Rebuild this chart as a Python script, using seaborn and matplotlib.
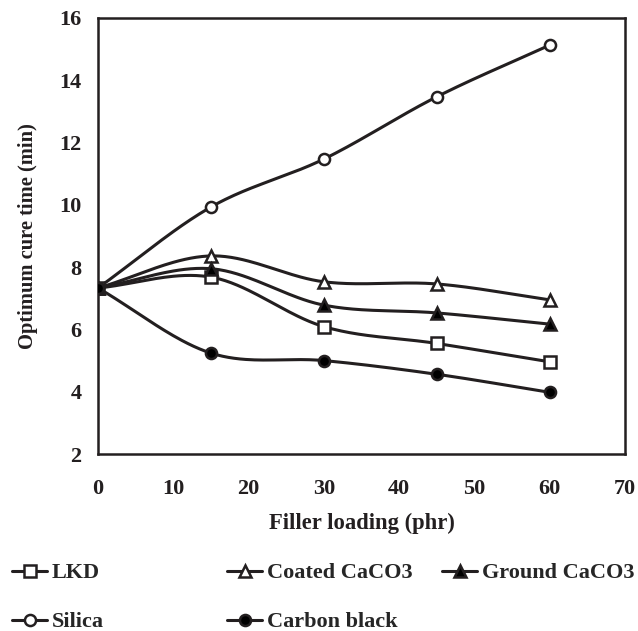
import numpy as np
import pandas as pd
import seaborn as sns
import matplotlib.pyplot as plt
from matplotlib.lines import Line2D

# --- DATA ---
loading = [0, 15, 30, 45, 60]
lkd = [7.33, 7.68, 6.09, 5.55, 4.96]
coated_caco3 = [7.33, 8.36, 7.53, 7.46, 6.95]
ground_caco3 = [7.33, 7.95, 6.78, 6.53, 6.17]
silica = [7.33, 9.93, 11.47, 13.47, 15.13]
carbon_black = [7.33, 5.24, 5.00, 4.56, 3.98]

x_ticks = [0, 10, 20, 30, 40, 50, 60, 70]
y_ticks = [2, 4, 6, 8, 10, 12, 14, 16]


def smooth(x, y, n=40):
    """Spline Catmull-Rom (como o 'smoothed line' do Excel)."""
    x = np.asarray(x, float)
    y = np.asarray(y, float)
    px = np.concatenate([[2 * x[0] - x[1]], x, [2 * x[-1] - x[-2]]])
    py = np.concatenate([[2 * y[0] - y[1]], y, [2 * y[-1] - y[-2]]])
    xs, ys = [], []
    t = np.linspace(0, 1, n)
    for i in range(1, len(px) - 2):
        for p, out in ((px, xs), (py, ys)):
            p0, p1, p2, p3 = p[i - 1], p[i], p[i + 1], p[i + 2]
            out.append(0.5 * ((2 * p1) + (-p0 + p2) * t
                              + (2 * p0 - 5 * p1 + 4 * p2 - p3) * t ** 2
                              + (-p0 + 3 * p1 - 3 * p2 + p3) * t ** 3))
    return np.concatenate(xs), np.concatenate(ys)


series = {
    'LKD': (lkd, 's', 'white'),
    'Coated CaCO3': (coated_caco3, '^', 'white'),
    'Ground CaCO3': (ground_caco3, '^', 'black'),
    'Silica': (silica, 'o', 'white'),
    'Carbon black': (carbon_black, 'o', 'black'),
}

sns.set_style('white')
plt.rcParams['font.family'] = ['Liberation Serif', 'DejaVu Serif']
plt.rcParams['font.weight'] = 'bold'

fig = plt.figure(figsize=(6.38, 6.31), dpi=100)
ax = fig.add_axes([0.1536, 0.2805, 0.826, 0.691])

lc = '#231f20'
handles = {}
for name, (vals, mk, fc) in series.items():
    sx, sy = smooth(loading, vals)
    df = pd.DataFrame({'x': sx, 'y': sy})
    sns.lineplot(data=df, x='x', y='y', ax=ax, color=lc, linewidth=2.2,
                 sort=False, estimator=None)
    ms = 9 if mk == '^' else 8
    ax.plot(loading, vals, linestyle='none', marker=mk, markersize=ms,
            markerfacecolor=fc, markeredgecolor=lc, markeredgewidth=1.8, zorder=3)
    handles[name] = Line2D([], [], color=lc, linewidth=2.2, marker=mk,
                           markersize=ms, markerfacecolor=fc,
                           markeredgecolor=lc, markeredgewidth=1.8, label=name)

ax.set_xlim(0, 70)
ax.set_ylim(2, 16)
ax.set_xticks(x_ticks)
ax.set_yticks(y_ticks)
for s in ax.spines.values():
    s.set_visible(True)
    s.set_color(lc)
    s.set_linewidth(1.8)
ax.tick_params(axis='both', direction='out', length=5, width=1, color='#555555',
               labelsize=16, labelcolor=lc)
ax.tick_params(axis='x', pad=13)
ax.tick_params(axis='y', pad=7)
ax.set_xlabel('Filler loading (phr)', fontsize=16.3, fontweight='bold', color=lc, labelpad=10)
ax.set_ylabel('Optimum cure time (min)', fontsize=14.8, fontweight='bold', color=lc, labelpad=15)

# legenda em três colunas de largura igual (estilo Excel)
columns = [['LKD', 'Silica'], ['Coated CaCO3', 'Carbon black'], ['Ground CaCO3']]
col_x = [0.0045, 0.3415, 0.6785]
for names, x0 in zip(columns, col_x):
    leg = fig.legend(handles=[handles[n] for n in names], loc='upper left',
                     bbox_to_anchor=(x0, 0.122), frameon=False, fontsize=16,
                     handlelength=1.6, handletextpad=0.2, labelspacing=1.28,
                     borderaxespad=0)

fig.savefig('out.png', dpi=100)
